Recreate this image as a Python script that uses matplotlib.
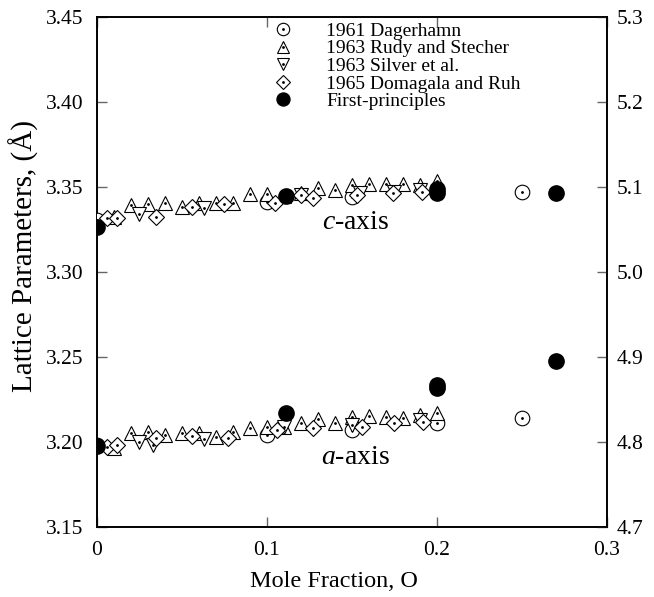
import matplotlib
matplotlib.use("Agg")
import matplotlib.pyplot as plt
from matplotlib.lines import Line2D
from matplotlib.legend_handler import HandlerTuple

plt.rcParams['font.family'] = ['Liberation Serif', 'DejaVu Serif']
plt.rcParams['mathtext.fontset'] = 'custom'
plt.rcParams['mathtext.rm'] = 'Liberation Serif'
plt.rcParams['mathtext.it'] = 'Liberation Serif:italic'

# ---- data ----
dag_x_a = [0.0, 0.10, 0.15, 0.20, 0.25]
dag_a = [3.1985, 3.2041, 3.2071, 3.2112, 3.2141]
dag_x_c = [0.0, 0.10, 0.15, 0.20, 0.25]
dag_c = [5.061, 5.082, 5.088, 5.095, 5.094]

rudy_x = [0.01, 0.02, 0.03, 0.04, 0.05, 0.06, 0.07, 0.08, 0.09, 0.10,
          0.11, 0.12, 0.13, 0.14, 0.15, 0.16, 0.17, 0.18, 0.19, 0.20]
rudy_a = [3.1965, 3.2053, 3.2059, 3.2041, 3.2053, 3.2053, 3.2029, 3.2059, 3.2082, 3.2088,
          3.2088, 3.2112, 3.2135, 3.2112, 3.2147, 3.2153, 3.2147, 3.2141, 3.2159, 3.2171]
rudy_c = [5.065, 5.079, 5.080, 5.081, 5.076, 5.081, 5.081, 5.081, 5.092, 5.092,
          5.089, 5.093, 5.099, 5.096, 5.102, 5.104, 5.104, 5.104, 5.102, 5.107]

silver_x_a = [0.025, 0.033, 0.063, 0.11, 0.15, 0.19]
silver_a = [3.2000, 3.1982, 3.2018, 3.2088, 3.2100, 3.2129]
silver_x_c = [0.025, 0.063, 0.12, 0.155, 0.175, 0.19]
silver_c = [5.068, 5.075, 5.091, 5.093, 5.094, 5.096]

doma_x_a = [0.006, 0.012, 0.035, 0.056, 0.077, 0.106, 0.127, 0.156, 0.175, 0.192]
doma_a = [3.1971, 3.1982, 3.2024, 3.2035, 3.2024, 3.2071, 3.2082, 3.2088, 3.2112, 3.2118]
doma_x_c = [0.006, 0.012, 0.035, 0.056, 0.075, 0.105, 0.12, 0.127, 0.153, 0.174, 0.191]
doma_c = [5.064, 5.064, 5.065, 5.076, 5.080, 5.081, 5.091, 5.087, 5.091, 5.093, 5.094]

fp_x = [0.0, 0.111, 0.2, 0.2, 0.27]
fp_a = [3.1976, 3.2171, 3.2315, 3.2335, 3.2476]
fp_c = [5.053, 5.089, 5.093, 5.098, 5.093]

labels = ['1961 Dagerhamn', '1963 Rudy and Stecher', '1963 Silver et al.',
          '1965 Domagala and Ruh', 'First-principles']

xticks = [0, 0.1, 0.2, 0.3]
xticklabels = ['0', '0.1', '0.2', '0.3']
yticks_left = [3.15, 3.20, 3.25, 3.30, 3.35, 3.40, 3.45]
yticks_right = [4.7, 4.8, 4.9, 5.0, 5.1, 5.2, 5.3]

# ---- figure ----
fig = plt.figure(figsize=(6.54, 5.97), dpi=100)
ax = fig.add_axes([0.1483, 0.1173, 0.7798, 0.8542])
ax2 = ax.twinx()

open_kw = dict(linestyle='none', markerfacecolor='white', markeredgecolor='black',
               markeredgewidth=0.8)
styles = [dict(marker='o', markersize=10.5, **open_kw),
          dict(marker='^', markersize=10.5, **open_kw),
          dict(marker='v', markersize=10.5, **open_kw),
          dict(marker='D', markersize=8, **open_kw),
          dict(marker='o', markersize=11, linestyle='none', color='black')]
dot_kw = dict(linestyle='none', marker='o', markersize=1.0, color='black')

series_a = [(dag_x_a, dag_a, 0), (rudy_x, rudy_a, 1), (silver_x_a, silver_a, 2),
            (doma_x_a, doma_a, 3)]
series_c = [(dag_x_c, dag_c, 0), (rudy_x, rudy_c, 1), (silver_x_c, silver_c, 2),
            (doma_x_c, doma_c, 3)]
for target, series, fpv in ((ax, series_a, fp_a), (ax2, series_c, fp_c)):
    for xs, ys, k in series:
        target.plot(xs, ys, **styles[k], zorder=3)
        target.plot(xs, ys, **dot_kw, zorder=3)
    target.plot(fp_x, fpv, **styles[4], zorder=4)

ax.set_xlim(0, 0.3)
ax.set_ylim(3.15, 3.45)
ax2.set_ylim(4.7, 5.3)

ax.set_xticks(xticks)
ax.set_xticklabels(xticklabels)
ax.set_yticks(yticks_left)
ax.set_yticklabels([f'{v:.2f}' for v in yticks_left])
ax2.set_yticks(yticks_right)
ax2.set_yticklabels([f'{v:.1f}' for v in yticks_right])

ax.tick_params(axis='x', direction='in', length=7, width=1, color='#666666',
               top=True, labelsize=15.5, pad=10)
ax.tick_params(axis='y', direction='in', length=7, width=1, color='#666666',
               labelsize=15.5, pad=10)
ax2.tick_params(axis='y', direction='in', length=7, width=1, color='#666666',
                labelsize=15.5, pad=7)
for a_ in (ax, ax2):
    for s in a_.spines.values():
        s.set_linewidth(1.2)

ax.set_xlabel('Mole Fraction, O', fontsize=17.5)
ax.set_ylabel('Lattice Parameters, (Å)', fontsize=21)
ax.xaxis.set_label_coords(0.465, -0.086)
ax.yaxis.set_label_coords(-0.113, 0.531)

ax.text(0.152, 3.3294, r'$\mathit{c}$-axis', fontsize=20, ha='center', va='center')
ax.text(0.152, 3.1906, r'$\mathit{a}$-axis', fontsize=20, ha='center', va='center')

handles = []
for k, st in enumerate(styles):
    st2 = dict(st)
    st2['markersize'] = st2['markersize'] * 0.85
    h = Line2D([], [], **st2)
    if k < 4:
        handles.append((h, Line2D([], [], **dot_kw)))
    else:
        handles.append(h)
ax.legend(handles, labels, loc='upper left', bbox_to_anchor=(0.331, 1.005),
          frameon=False, fontsize=14, labelspacing=0.0, handletextpad=1.7,
          handlelength=1.0, borderaxespad=0.0,
          handler_map={tuple: HandlerTuple(ndivide=1, pad=0)})

fig.savefig('out.png', dpi=100)
